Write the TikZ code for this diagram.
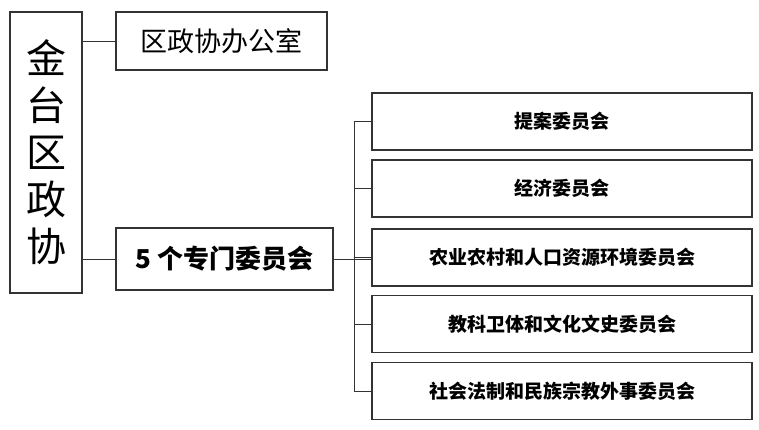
\documentclass[tikz,border=0pt]{standalone}
\usepackage{fontspec}
\newfontfamily\cjk{Noto Sans CJK SC}
\usetikzlibrary{positioning}

\tikzset{
  unit/.style={draw=black!80, line width=1.5pt, inner sep=0pt, font=\cjk},
  committee/.style={unit, minimum width=380pt, minimum height=57pt, font=\cjk\fontsize{19}{19}\selectfont\bfseries},
  link/.style={draw=black!80, line width=0.8pt}
}

\begin{document}
\begin{tikzpicture}[x=1pt,y=-1pt]
  \useasboundingbox (0,0) rectangle (759,430);

  \node[unit, minimum width=72pt, minimum height=281pt, align=center,
        font=\cjk\fontsize{40}{47}\selectfont] (zx) at (46,152.5)
        {金\\台\\区\\政\\协};

  \node[unit, minimum width=211pt, minimum height=58pt,
        font=\cjk\fontsize{27}{27}\selectfont] (office) at (221.5,41) {区政协办公室};
  \node[unit, minimum width=217pt, minimum height=62pt,
        font=\cjk\fontsize{26}{26}\selectfont\bfseries] (five) at (224.5,259) {5 个专门委员会};

  \node[committee] (c1) at (562,121.5) {提案委员会};
  \node[committee] (c2) at (562,188.5) {经济委员会};
  \node[committee] (c3) at (562,257.5) {农业农村和人口资源环境委员会};
  \node[committee] (c4) at (562,324) {教科卫体和文化文史委员会};
  \node[committee] (c5) at (562,391) {社会法制和民族宗教外事委员会};

  \draw[link] (zx.east |- office) -- (office.west);
  \draw[link] (zx.east |- five) -- (five.west);

  \coordinate (bus) at (354,259);
  \draw[link] (five.east) -- (c3.west |- five.east);
  \draw[link] (bus |- c1) -- (bus |- c5);
  \foreach \c in {c1,c2,c3,c4,c5}
    \draw[link] (bus |- \c) -- (\c.west);
\end{tikzpicture}
\end{document}
